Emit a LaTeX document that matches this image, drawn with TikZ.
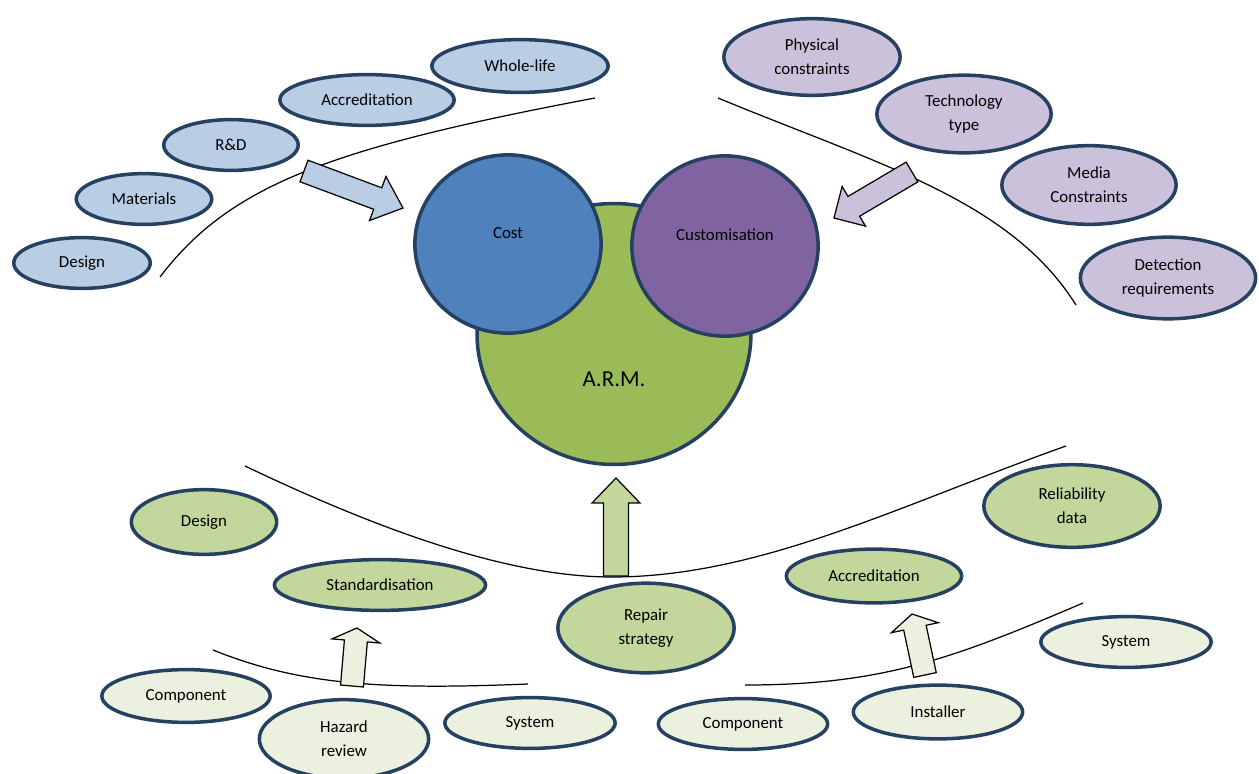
\documentclass[tikz,border=0pt]{standalone}
\usepackage{fontspec}
\setmainfont{Carlito}
\usetikzlibrary{shapes.geometric,calc}
\definecolor{edge}{HTML}{254061}
\definecolor{bluel}{HTML}{B9CDE5}
\definecolor{purl}{HTML}{CCC1DA}
\definecolor{costc}{HTML}{4F81BD}
\definecolor{custc}{HTML}{8064A2}
\definecolor{armc}{HTML}{9BBB59}
\definecolor{greenm}{HTML}{C3D69B}
\definecolor{greenl}{HTML}{EBF1DE}
% block arrow: #1 style, #2 tail, #3 tip, #4 shaft half width, #5 head half width, #6 head length
\newcommand\blockarr[6]{%
  \coordinate (ba-h) at ($(#3)!#6!(#2)$);
  \draw[#1] ($(#2)!#4!90:(#3)$) -- ($(ba-h)!#4!90:(#3)$) -- ($(ba-h)!#5!90:(#3)$)
    -- (#3) -- ($(ba-h)!#5!-90:(#3)$) -- ($(ba-h)!#4!-90:(#3)$) -- ($(#2)!#4!-90:(#3)$) -- cycle;
}
\begin{document}
\begin{tikzpicture}[x=0.02cm,y=-0.02cm,
  sz/.style 2 args={minimum width={#1*0.5669pt}, minimum height={#2*0.5669pt}},
  el/.style={ellipse, draw=edge, line width=2pt, inner sep=0pt, align=center,
    font=\fontsize{9.6}{13.6}\selectfont},
  blueel/.style={el, fill=bluel},
  purel/.style={el, fill=purl},
  grel/.style={el, fill=greenm},
  ltel/.style={el, fill=greenl},
  curve/.style={draw=black, line width=0.7pt},
  barrow/.style={draw=black, line width=0.7pt, line join=miter}
]
\useasboundingbox (0,0) rectangle (1259,774);

% guide curves
\coordinate (c1a) at (160,277); \coordinate (c1b) at (595,98);
\draw[curve] (c1a) .. controls (230,185) and (330,148) .. (c1b);
\coordinate (c2a) at (718,98); \coordinate (c2b) at (1076,305);
\draw[curve] (c2a) .. controls (880,165) and (1010,200) .. (c2b);
\coordinate (c3a) at (245,466); \coordinate (c3m) at (612,577); \coordinate (c3b) at (1066,446);
\draw[curve] (c3a) .. controls (400,540) and (520,577) .. (c3m) .. controls (760,577) and (900,505) .. (c3b);
\coordinate (c4a) at (213,650); \coordinate (c4b) at (528,684);
\draw[curve] (c4a) .. controls (300,685) and (380,690) .. (c4b);
\coordinate (c5a) at (745,685); \coordinate (c5b) at (1083,603);
\draw[curve] (c5a) .. controls (880,685) and (950,660) .. (c5b);

% block arrows
\coordinate (a1t) at (304,171); \coordinate (a1h) at (403,208);
\blockarr{barrow, fill=bluel}{a1t}{a1h}{0.23cm}{0.47cm}{0.54cm}
\coordinate (a2t) at (912,172); \coordinate (a2h) at (834,218);
\blockarr{barrow, fill=purl}{a2t}{a2h}{0.23cm}{0.46cm}{0.46cm}
\coordinate (a3t) at (616,576); \coordinate (a3h) at (616,478);
\blockarr{barrow, fill=greenm}{a3t}{a3h}{0.25cm}{0.48cm}{0.5cm}
\coordinate (a4t) at (352,686); \coordinate (a4h) at (357,628);
\blockarr{barrow, fill=greenl}{a4t}{a4h}{0.23cm}{0.48cm}{0.26cm}
\coordinate (a5t) at (925,675); \coordinate (a5h) at (912,614);
\blockarr{barrow, fill=greenl}{a5t}{a5h}{0.23cm}{0.48cm}{0.28cm}

% top-left (cost drivers)
\node[blueel, sz={137}{51}] (tl1) at (82,263) {Design};
\node[blueel, sz={136}{51}] (tl2) at (144,199) {Materials};
\node[blueel, sz={135}{51}] (tl3) at (231,145) {R\&D};
\node[blueel, sz={175}{51}] (tl4) at (367,100) {Accreditation};
\node[blueel, sz={177}{53}] (tl5) at (520,66) {Whole-life};

% top-right (customisation drivers)
\node[purel, sz={177}{77}] (tr1) at (812,57) {Physical\\constraints};
\node[purel, sz={175}{78}] (tr2) at (964,114) {Technology\\type};
\node[purel, sz={175}{79}] (tr3) at (1089,185) {Media\\Constraints};
\node[purel, sz={176}{82}] (tr4) at (1168,278) {Detection\\requirements};

% centre
\node[el, fill=armc, sz={275}{262}] (arm) at (614,334) {};
\node[font=\fontsize{13}{15}\selectfont] at (614,379) {A.R.M.};
\node[el, fill=costc, sz={187}{179}] (cost) at (508,244) {};
\node[font=\fontsize{9.6}{11}\selectfont] at (508,233) {Cost};
\node[el, fill=custc, sz={187}{181}] (cust) at (725,246) {};
\node[font=\fontsize{9.6}{11}\selectfont] at (725,235) {Customisation};

% lower (green)
\node[grel, sz={146}{65}] (g1) at (204,522) {Design};
\node[grel, sz={212}{51}] (g2) at (380,585) {Standardisation};
\node[grel, sz={177}{90}] (g3) at (646,628) {Repair\\strategy};
\node[grel, sz={176}{54}] (g4) at (874,576) {Accreditation};
\node[grel, sz={177}{83}] (g5) at (1072,506) {Reliability\\data};

% lowest (light green)
\node[ltel, sz={169}{53}] (l1) at (186,696) {Component};
\node[ltel, sz={170}{79}] (l2) at (344,739) {Hazard\\review};
\node[ltel, sz={171}{51}] (l3) at (530,723) {System};
\node[ltel, sz={170}{51}] (l4) at (743,724) {Component};
\node[ltel, sz={170}{54}] (l5) at (938,712) {Installer};
\node[ltel, sz={171}{51}] (l6) at (1126,642) {System};
\end{tikzpicture}
\end{document}
